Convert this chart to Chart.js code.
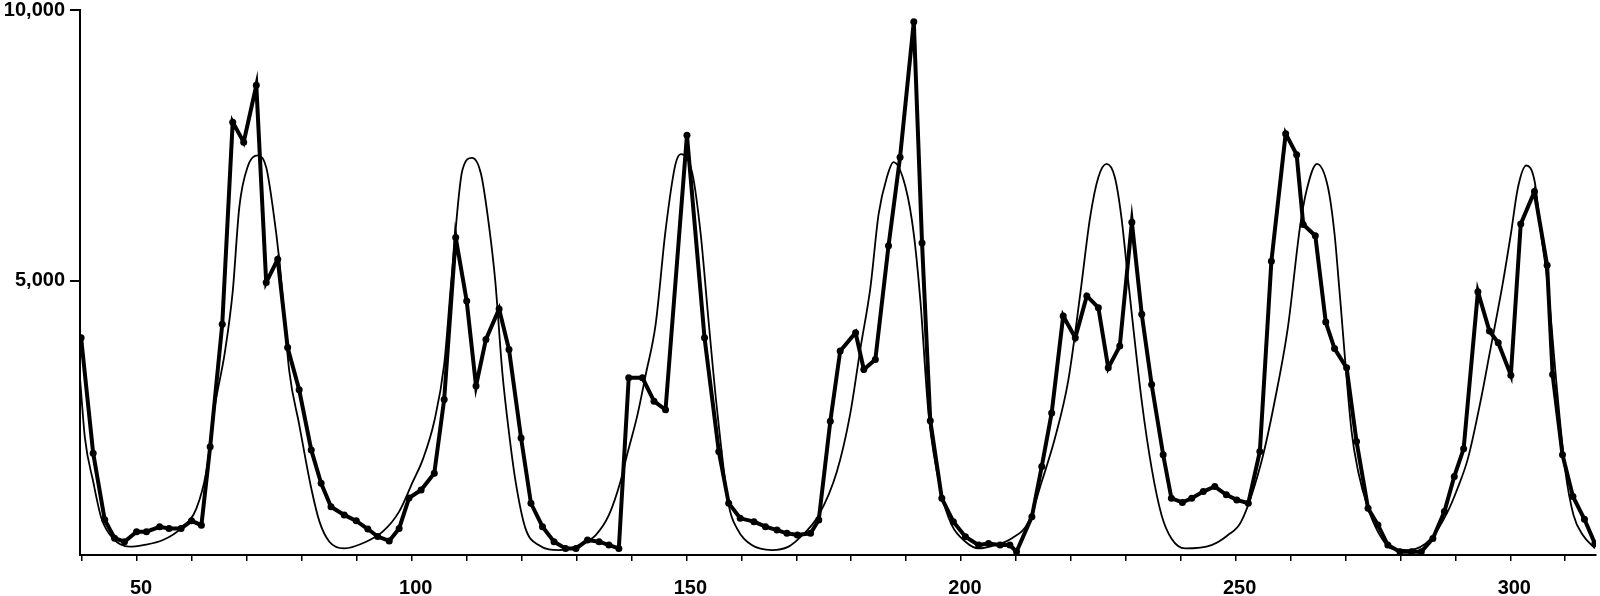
<!DOCTYPE html>
<html>
<head>
<meta charset="utf-8">
<script src="https://cdn.jsdelivr.net/npm/chart.js@4.4.1/dist/chart.umd.min.js"></script>
<style>
  html, body { margin: 0; padding: 0; background: #fff; }
  #wrap { width: 1600px; height: 596px; }
</style>
</head>
<body>
<div id="wrap"><canvas id="chart" width="1600" height="596"></canvas></div>
<script>
// observed counts (thick line with dots)
const obsDays = [39.8, 42, 44.1, 45.9, 47.7, 49.9, 51.7, 54.1, 55.8, 58, 59.9, 61.7, 63.3, 65.5, 67.4, 69.4, 71.7, 73.5, 75.6, 77.4,
  79.5, 81.7, 83.5, 85.3, 87.7, 89.9, 92, 93.8, 95.9, 97.7, 99.5, 101.7, 104.1, 105.9, 108, 110, 111.7, 113.5, 115.9, 117.7,
  119.9, 121.7, 123.8, 125.9, 128, 129.9, 132, 134.1, 135.9, 137.7, 139.5, 142, 144.1, 146.2, 150.1, 153.3, 155.9, 157.7,
  159.8, 162.3, 164.4, 166.5, 168.3, 170.2, 172.6, 174.1, 176.2, 178, 180.8, 182.3, 184.4, 186.8, 188.9, 191.4, 192.9, 194.4, 196.5, 198.6,
  200.8, 203.2, 205, 207.1, 208.9, 210.1, 212.9, 214.7, 216.5, 218.6, 220.8, 222.9, 225, 226.8, 228.9, 231.1, 232.9, 234.7, 236.8, 238.3,
  240.3, 242, 244.1, 246.2, 248.3, 250.2, 252.3, 254.4, 256.5, 259.1, 261.1, 262.3, 264.5, 266.4, 268, 270.2, 272, 274.1, 275.9, 277.7,
  279.9, 282, 283.8, 285.9, 288, 289.8, 291.5, 294.1, 296.2, 297.8, 300.1, 301.9, 304.4, 306.7, 307.7, 309.5, 311.4, 313.5, 315.4];
const obsValues = [3950, 1820, 590, 250, 185, 370, 370, 460, 430, 430, 570, 490, 1940, 4200, 7930, 7560, 8610, 4970, 5400, 3770,
  2990, 1880, 1265, 830, 680, 570, 420, 280, 200, 430, 990, 1140, 1450, 2810, 5800, 4630, 3060, 3920, 4480, 3735,
  2100, 895, 463, 185, 62, 62, 216, 185, 123, 62, 3210, 3210, 2780, 2620, 7690, 3950, 1850, 895,
  617, 556, 463, 400, 340, 310, 340, 587, 2408, 3704, 4043, 3365, 3550, 5650, 7284, 9784, 5700, 2420, 987, 556,
  278, 123, 154, 123, 123, 0, 648, 1574, 2562, 4352, 3951, 4723, 4506, 3395, 3796, 6080, 4383, 3087, 1790, 987,
  910, 987, 1111, 1204, 1050, 957, 895, 1850, 5360, 7717, 7330, 6040, 5834, 4240, 3750, 3395, 2037, 802, 494, 123,
  0, 0, 0, 246, 741, 1390, 1900, 4800, 4074, 3858, 3260, 6050, 6650, 5290, 3272, 1790, 1020, 600, 150];

// fitted curve (thin line)
const fitDays = [39.6, 40.5, 42, 43.5, 45.6, 48.6, 51.1, 54.7, 58, 60.8, 62.6, 64.1, 66, 67.4, 68.6, 70.1, 72, 73.5, 74.7, 75.9,
  77.7, 79.5, 81.7, 83.2, 85, 87.7, 91.7, 94.7, 97.7, 100.2, 102, 104.1, 105.9, 107.2, 109.2, 111, 112.6, 114.1, 115.2, 116.5,
  117.7, 118.9, 120.7, 123.1, 126.8, 130.5, 133.5, 135.9, 138, 139.2, 141.1, 142.6, 144.4, 146.2, 148, 149, 151.1, 152.6, 154, 155.5,
  157.7, 159.2, 161.9, 165.6, 168.5, 170.5, 174.1, 177.4, 179.8, 181.7, 183.5, 185, 186.5, 187.7, 189.9, 191.4, 192.6, 194.1, 196.5, 198.3,
  200.8, 203.2, 206.2, 209.2, 212.3, 214.7, 217.1, 219.5, 221.7, 223.5, 225, 226.5, 228, 229.2, 230.5, 232.9, 234.7, 236.5, 238.3, 240.8,
  245.6, 248.5, 251, 254.7, 257.1, 259.5, 261.7, 262.9, 264.8, 266.8, 268, 268.9, 271.1, 272.3, 274.1, 275.9, 278.3, 281.5, 285.6,
  288.6, 290.4, 292.3, 294.7, 296.2, 298.6, 300.1, 301.4, 302.9, 304.4, 305.6, 306.8, 308.5, 310, 311.5, 313.2, 315.4];
const fitValues = [3210, 2098, 1296, 617, 246, 93, 123, 216, 432, 802, 1482, 2654, 3700, 4800, 6358, 7099, 7315, 7099, 6358, 5371,
  3333, 2352, 1172, 556, 185, 62, 185, 370, 741, 1296, 1700, 2408, 3457, 5000, 7037, 7272, 6976, 5988, 5000, 3300,
  2200, 1300, 432, 123, 31, 123, 309, 679, 1296, 1790, 2531, 3272, 4198, 5926, 7150, 7340, 6976, 5865, 4300, 2700,
  865, 432, 123, 31, 90, 246, 679, 1482, 2531, 3765, 4877, 6235, 6913, 7191, 6728, 5865, 4630, 2531, 1050, 494,
  185, 62, 123, 246, 556, 1296, 2098, 3148, 4754, 6173, 6913, 7161, 6913, 6173, 4939, 2778, 1543, 679, 246, 62,
  123, 300, 556, 1667, 2778, 4136, 5988, 6667, 7161, 6728, 5865, 4815, 2222, 1482, 802, 370, 62, 30, 246,
  741, 1172, 1728, 2839, 3642, 4939, 5865, 6728, 7130, 6852, 5865, 4939, 3000, 1500, 679, 309, 62];

const yTickValues = [5000, 10000];
const xTickValues = [40, 50, 60, 70, 80, 90, 100, 110, 120, 130, 140, 150, 160, 170, 180, 190, 200,
  210, 220, 230, 240, 250, 260, 270, 280, 290, 300, 310];

const toPoints = (xs, ys) => xs.map((x, i) => ({ x: x, y: ys[i] }));

Chart.defaults.font.family = "'Liberation Sans', Arial, sans-serif";
Chart.defaults.color = "#000";

new Chart(document.getElementById("chart"), {
  type: "line",
  data: {
    datasets: [
      {
        label: "Fitted",
        data: toPoints(fitDays, fitValues),
        borderColor: "#000",
        borderWidth: 1.8,
        pointRadius: 0,
        cubicInterpolationMode: "monotone",
        fill: false,
      },
      {
        label: "Observed",
        data: toPoints(obsDays, obsValues),
        borderColor: "#000",
        backgroundColor: "#000",
        borderWidth: 4,
        pointRadius: 3.5,
        pointBorderWidth: 0,
        tension: 0,
        fill: false,
      },
    ],
  },
  options: {
    responsive: false,
    animation: false,
    devicePixelRatio: 1,
    layout: { padding: { left: 0, right: 3, top: 10, bottom: 0 } },
    plugins: { legend: { display: false }, tooltip: { enabled: false } },
    scales: {
      x: {
        type: "linear",
        min: 39.6,
        max: 315.6,
        afterBuildTicks: (scale) => {
          scale.ticks = xTickValues.map((v) => ({ value: v }));
        },
        afterFit: (scale) => {
          scale.height = 41;
          scale.paddingLeft = 0;
          scale.paddingRight = 0;
        },
        ticks: {
          autoSkip: false,
          maxRotation: 0,
          padding: 15,
          labelOffset: 4,
          font: { size: 20, weight: "bold" },
          callback: (v) => (v % 50 === 0 ? String(v) : ""),
        },
        grid: {
          drawOnChartArea: false,
          drawTicks: true,
          tickLength: 6,
          color: "#000",
          lineWidth: 1.5,
        },
        border: { display: true, color: "#000", width: 2 },
      },
      y: {
        min: -60,
        max: 10000,
        afterBuildTicks: (scale) => {
          scale.ticks = yTickValues.map((v) => ({ value: v }));
        },
        afterFit: (scale) => {
          scale.width = 80;
          scale.paddingTop = 0;
          scale.paddingBottom = 0;
        },
        ticks: {
          padding: 5,
          font: { size: 20, weight: "bold" },
          callback: (v) => v.toLocaleString("en-US"),
        },
        grid: {
          drawOnChartArea: false,
          drawTicks: true,
          tickLength: 10,
          color: "#000",
          lineWidth: 2,
        },
        border: { display: true, color: "#000", width: 2 },
      },
    },
  },
});
</script>
</body>
</html>
